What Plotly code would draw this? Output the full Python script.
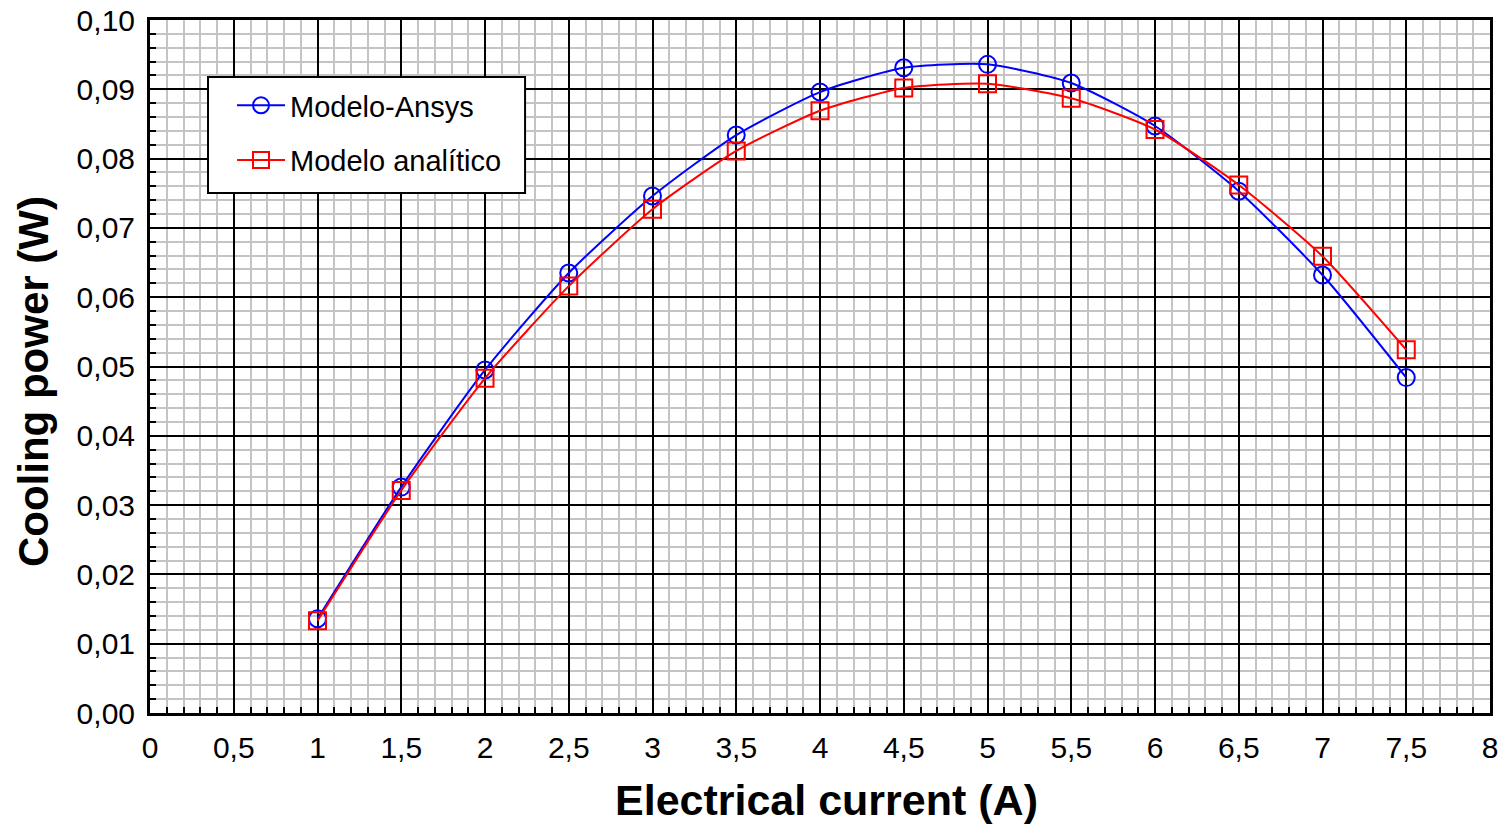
import plotly.graph_objects as go

current = [1, 1.5, 2, 2.5, 3, 3.5, 4, 4.5, 5, 5.5, 6, 6.5, 7, 7.5]
ansys = [0.0136, 0.0326, 0.0495, 0.0635, 0.0746, 0.0834, 0.0896, 0.0931, 0.0936,
         0.0909, 0.0847, 0.0753, 0.0632, 0.0484]
analitico = [0.0133, 0.0321, 0.0483, 0.0616, 0.0727, 0.0811, 0.0869, 0.0902, 0.0908,
             0.0887, 0.0842, 0.0762, 0.0659, 0.0524]

x_ticks = [i * 0.5 for i in range(17)]
y_ticks = [i * 0.01 for i in range(11)]

x_title = "<b>Electrical current (A)</b>"
y_title = "<b>Cooling power (W)</b>"

FONT = "Liberation Sans, Arial, sans-serif"

fig = go.Figure()
fig.add_trace(go.Scatter(
    x=current, y=ansys, name="Modelo-Ansys", mode="lines+markers",
    line=dict(color="#0000ff", width=2, shape="spline", smoothing=0.6),
    marker=dict(symbol="circle-open", size=17, color="#0000ff", line=dict(width=2, color="#0000ff")),
    legendgroup="a",
))
fig.add_trace(go.Scatter(
    x=current, y=analitico, name="Modelo analítico", mode="lines+markers",
    line=dict(color="#ff0000", width=2, shape="spline", smoothing=0.6),
    marker=dict(symbol="square-open", size=17, color="#ff0000", line=dict(width=2, color="#ff0000")),
    legendgroup="b",
))

axis_common = dict(
    showline=True, linecolor="black", linewidth=3, mirror=True,
    showgrid=True, gridcolor="black", gridwidth=1.5,
    ticks="inside", ticklen=9, tickwidth=2, tickcolor="black",
    zeroline=False,
    tickfont=dict(family=FONT, size=30, color="black"),
)

fig.update_xaxes(
    range=[0, 8], tickvals=x_ticks,
    ticktext=[("%g" % v).replace(".", ",") for v in x_ticks],
    ticklabelstandoff=6,
    minor=dict(dtick=0.1, showgrid=True, gridcolor="#c4c4c4", gridwidth=1.5,
               ticks="inside", ticklen=6, tickwidth=2, tickcolor="black"),
    **axis_common,
)
fig.update_yaxes(
    range=[0, 0.10], tickvals=y_ticks,
    ticktext=[("%.2f" % v).replace(".", ",") for v in y_ticks],
    ticklabelstandoff=6,
    minor=dict(dtick=0.002, showgrid=True, gridcolor="#c4c4c4", gridwidth=1.5,
               ticks="inside", ticklen=6, tickwidth=2, tickcolor="black"),
    **axis_common,
)

# legend frame
fig.add_shape(type="rect", xref="paper", yref="paper",
              x0=0.0433, x1=0.2799, y0=0.7504, y1=0.9177,
              fillcolor="white", line=dict(color="black", width=2), layer="above")

fig.add_annotation(text=x_title, xref="paper", yref="paper", x=0.505, y=-0.1255,
                   xanchor="center", yanchor="middle", showarrow=False,
                   font=dict(family=FONT, size=43, color="black"))
fig.add_annotation(text=y_title, xref="paper", yref="paper", x=-0.0873, y=0.4776,
                   xanchor="center", yanchor="middle", showarrow=False, textangle=-90,
                   font=dict(family=FONT, size=42, color="black"))

fig.update_layout(
    width=1505, height=824,
    margin=dict(l=150, r=15, t=20, b=111, autoexpand=False),
    plot_bgcolor="white", paper_bgcolor="white",
    separators=", ",
    showlegend=True,
    legend=dict(
        x=0.0612, y=0.9135, xanchor="left", yanchor="top",
        bgcolor="rgba(0,0,0,0)", borderwidth=0,
        font=dict(family=FONT, size=29, color="black"),
        tracegroupgap=14, itemwidth=48,
    ),
)

fig.write_html("out.html", config={"displayModeBar": False},
               post_script="document.body.style.margin='0';document.body.style.overflow='hidden';")
